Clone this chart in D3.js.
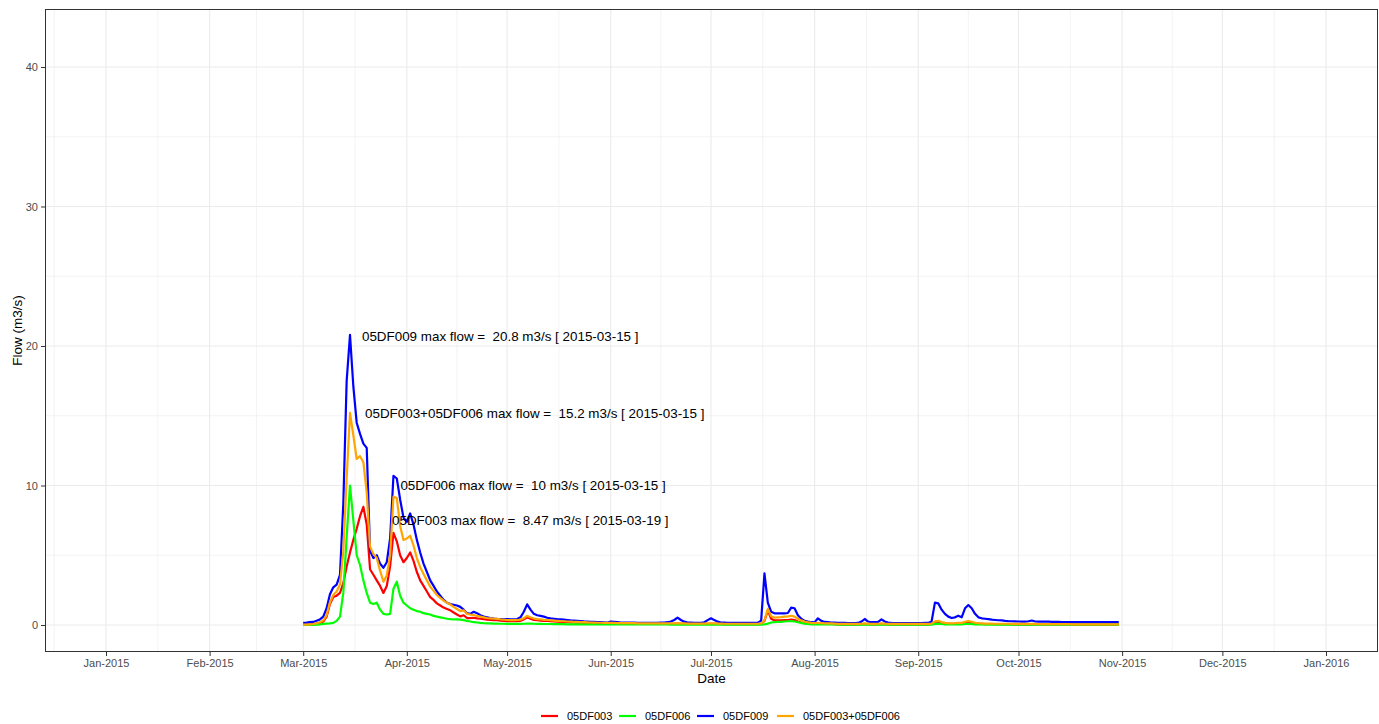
<!DOCTYPE html>
<html>
<head>
<meta charset="utf-8">
<script src="https://cdn.jsdelivr.net/npm/d3@7"></script>
<style>
  html, body { margin: 0; padding: 0; background: #fff; }
  svg { display: block; font-family: "Liberation Sans", Arial, Helvetica, sans-serif; }
</style>
</head>
<body>
<svg id="chart" width="1379" height="724"></svg>
<script>
// Daily mean flow (m3/s), one value per day starting on the first date below.
const firstDay = "2015-03-01";

const flow05DF003 = [
  0.02,0.03,0.05,0.07,0.1,0.15,0.25,0.6,1.5,2.0,
  2.1,2.3,3.0,4.2,5.2,6.1,6.9,7.8,8.47,7.2,
  4.0,3.6,3.2,2.8,2.3,2.8,4.2,6.6,6.0,5.0,
  4.5,4.8,5.2,4.6,3.8,3.2,2.8,2.4,2.0,1.8,
  1.55,1.4,1.25,1.15,1.05,0.9,0.75,0.62,0.7,0.5,
  0.5,0.52,0.47,0.45,0.42,0.38,0.37,0.35,0.34,0.32,
  0.3,0.28,0.27,0.27,0.28,0.3,0.4,0.55,0.45,0.37,
  0.34,0.32,0.3,0.29,0.27,0.26,0.24,0.22,0.21,0.2,
  0.19,0.18,0.17,0.16,0.15,0.14,0.13,0.13,0.12,0.12,
  0.11,0.11,0.12,0.11,0.1,0.1,0.09,0.09,0.09,0.09,
  0.08,0.08,0.08,0.08,0.08,0.08,0.08,0.08,0.08,0.08,
  0.08,0.08,0.1,0.09,0.08,0.07,0.07,0.07,0.07,0.07,
  0.07,0.08,0.09,0.08,0.07,0.07,0.06,0.06,0.06,0.06,
  0.06,0.06,0.06,0.06,0.06,0.06,0.06,0.08,0.3,1.05,
  0.45,0.33,0.33,0.33,0.35,0.35,0.38,0.35,0.25,0.18,
  0.14,0.12,0.1,0.09,0.12,0.1,0.08,0.07,0.07,0.06,
  0.05,0.05,0.05,0.05,0.05,0.05,0.05,0.06,0.08,0.06,
  0.05,0.05,0.06,0.08,0.06,0.05,0.05,0.05,0.05,0.05,
  0.05,0.05,0.05,0.05,0.05,0.05,0.05,0.05,0.07,0.18,
  0.2,0.14,0.1,0.09,0.08,0.09,0.1,0.1,0.16,0.2,
  0.16,0.11,0.09,0.08,0.07,0.07,0.07,0.06,0.06,0.06,
  0.06,0.06,0.05,0.05,0.05,0.05,0.05,0.05,0.05,0.05,
  0.04,0.04,0.04,0.04,0.04,0.04,0.04,0.04,0.04,0.04,
  0.03,0.03,0.03,0.03,0.03,0.03,0.03,0.03,0.03,0.03,
  0.03,0.03,0.03,0.03,0.03
];

const flow05DF006 = [
  0,0,0,0,0.02,0.05,0.08,0.1,0.12,0.15,
  0.3,0.6,2.3,6.3,10.0,7.5,5.0,4.3,3.2,2.3,
  1.6,1.5,1.6,1.1,0.8,0.75,0.8,2.6,3.1,2.1,
  1.6,1.4,1.2,1.1,1.0,0.95,0.85,0.8,0.75,0.65,
  0.6,0.55,0.5,0.45,0.42,0.4,0.4,0.38,0.35,0.3,
  0.25,0.2,0.18,0.15,0.13,0.12,0.11,0.1,0.1,0.09,
  0.09,0.08,0.08,0.08,0.08,0.08,0.09,0.1,0.1,0.09,
  0.08,0.08,0.07,0.07,0.07,0.06,0.06,0.06,0.06,0.05,
  0.05,0.05,0.05,0.05,0.05,0.05,0.05,0.04,0.04,0.04,
  0.04,0.04,0.04,0.04,0.04,0.04,0.04,0.04,0.04,0.04,
  0.04,0.04,0.04,0.04,0.04,0.04,0.04,0.04,0.04,0.04,
  0.03,0.03,0.03,0.03,0.03,0.03,0.03,0.03,0.03,0.03,
  0.03,0.03,0.03,0.03,0.03,0.03,0.03,0.03,0.03,0.03,
  0.03,0.03,0.03,0.03,0.03,0.03,0.03,0.03,0.05,0.1,
  0.18,0.2,0.22,0.23,0.25,0.27,0.28,0.25,0.2,0.15,
  0.1,0.08,0.05,0.04,0.04,0.04,0.04,0.04,0.04,0.04,
  0.03,0.03,0.03,0.03,0.03,0.03,0.03,0.03,0.03,0.03,
  0.03,0.03,0.03,0.03,0.03,0.03,0.03,0.03,0.03,0.03,
  0.03,0.03,0.03,0.03,0.03,0.03,0.03,0.03,0.03,0.08,
  0.1,0.07,0.05,0.04,0.04,0.04,0.05,0.05,0.07,0.09,
  0.07,0.05,0.04,0.04,0.03,0.03,0.03,0.03,0.03,0.03,
  0.03,0.03,0.03,0.03,0.03,0.03,0.03,0.03,0.03,0.03,
  0.02,0.02,0.02,0.02,0.02,0.02,0.02,0.02,0.02,0.02,
  0.02,0.02,0.02,0.02,0.02,0.02,0.02,0.02,0.02,0.02,
  0.02,0.02,0.02,0.02,0.02
];

const flow05DF009 = [
  0.15,0.17,0.2,0.22,0.3,0.4,0.6,1.2,2.2,2.7,
  2.9,3.6,8.7,17.5,20.8,17.1,14.5,13.7,13.0,12.7,
  5.3,4.8,5.0,4.4,4.1,4.5,6.2,10.7,10.5,9.0,
  7.7,7.4,8.0,7.2,6.1,5.2,4.4,3.8,3.2,2.8,
  2.4,2.1,1.8,1.6,1.5,1.45,1.4,1.3,1.1,0.85,
  0.8,0.95,0.85,0.7,0.6,0.55,0.5,0.46,0.44,0.43,
  0.42,0.42,0.41,0.41,0.43,0.55,0.95,1.48,1.1,0.8,
  0.7,0.65,0.6,0.52,0.48,0.45,0.42,0.4,0.38,0.36,
  0.33,0.32,0.3,0.28,0.26,0.25,0.23,0.22,0.2,0.2,
  0.19,0.18,0.24,0.22,0.2,0.18,0.17,0.17,0.17,0.17,
  0.16,0.16,0.16,0.16,0.16,0.16,0.16,0.17,0.18,0.2,
  0.25,0.36,0.53,0.36,0.24,0.18,0.17,0.16,0.16,0.16,
  0.2,0.35,0.48,0.35,0.24,0.18,0.17,0.16,0.16,0.16,
  0.16,0.16,0.16,0.16,0.16,0.16,0.17,0.3,3.7,1.6,
  0.95,0.84,0.84,0.84,0.84,0.86,1.24,1.2,0.7,0.45,
  0.3,0.24,0.2,0.19,0.48,0.3,0.22,0.2,0.18,0.17,
  0.16,0.15,0.15,0.14,0.14,0.14,0.15,0.24,0.43,0.25,
  0.2,0.2,0.22,0.4,0.25,0.17,0.15,0.14,0.14,0.14,
  0.14,0.14,0.14,0.14,0.14,0.14,0.15,0.15,0.25,1.6,
  1.55,1.1,0.8,0.6,0.5,0.55,0.67,0.55,1.2,1.43,
  1.2,0.8,0.55,0.48,0.45,0.42,0.38,0.36,0.34,0.33,
  0.3,0.28,0.27,0.26,0.25,0.24,0.24,0.27,0.32,0.25,
  0.24,0.24,0.25,0.24,0.23,0.22,0.22,0.21,0.2,0.2,
  0.2,0.2,0.2,0.2,0.2,0.2,0.2,0.2,0.2,0.2,
  0.2,0.2,0.2,0.2,0.2
];

const flow05DF003plus006 = [
  0.02,0.03,0.05,0.07,0.12,0.2,0.33,0.7,1.62,2.15,
  2.4,2.9,5.3,10.5,15.2,13.6,11.9,12.1,11.67,9.5,
  5.6,5.1,4.8,3.9,3.1,3.55,5.0,9.2,9.1,7.1,
  6.1,6.2,6.4,5.7,4.8,4.15,3.65,3.2,2.75,2.45,
  2.15,1.95,1.75,1.6,1.47,1.3,1.15,1.0,1.05,0.8,
  0.75,0.72,0.65,0.6,0.55,0.5,0.48,0.45,0.44,0.41,
  0.39,0.36,0.35,0.35,0.36,0.38,0.49,0.65,0.55,0.46,
  0.42,0.4,0.37,0.36,0.34,0.32,0.3,0.28,0.27,0.25,
  0.24,0.23,0.22,0.21,0.2,0.19,0.18,0.17,0.16,0.16,
  0.15,0.15,0.16,0.15,0.14,0.14,0.13,0.13,0.13,0.13,
  0.12,0.12,0.12,0.12,0.12,0.12,0.12,0.12,0.12,0.12,
  0.11,0.11,0.13,0.12,0.11,0.1,0.1,0.1,0.1,0.1,
  0.1,0.11,0.12,0.11,0.1,0.1,0.09,0.09,0.09,0.09,
  0.09,0.09,0.09,0.09,0.09,0.09,0.09,0.11,0.35,1.15,
  0.63,0.53,0.55,0.56,0.6,0.62,0.66,0.6,0.45,0.33,
  0.24,0.2,0.15,0.13,0.16,0.14,0.12,0.11,0.11,0.1,
  0.08,0.08,0.08,0.08,0.08,0.08,0.08,0.09,0.11,0.09,
  0.08,0.08,0.09,0.11,0.09,0.08,0.08,0.08,0.08,0.08,
  0.08,0.08,0.08,0.08,0.08,0.08,0.08,0.08,0.1,0.26,
  0.3,0.21,0.15,0.13,0.12,0.13,0.15,0.15,0.23,0.29,
  0.23,0.16,0.13,0.12,0.1,0.1,0.1,0.09,0.09,0.09,
  0.09,0.09,0.08,0.08,0.08,0.08,0.08,0.08,0.08,0.08,
  0.06,0.06,0.06,0.06,0.06,0.06,0.06,0.06,0.06,0.06,
  0.05,0.05,0.05,0.05,0.05,0.05,0.05,0.05,0.05,0.05,
  0.05,0.05,0.05,0.05,0.05
];

const stationNames = ["05DF003", "05DF006", "05DF009", "05DF003+05DF006"];
const stationColors = ["#FF0000", "#00FF00", "#0000FF", "#FFA500"];
const stationFlows = [flow05DF003, flow05DF006, flow05DF009, flow05DF003plus006];

const yTicks = [0, 10, 20, 30, 40];
const yMinorTicks = [5, 15, 25, 35];
const xTickDates = ["2015-01-01","2015-02-01","2015-03-01","2015-04-01","2015-05-01","2015-06-01",
                    "2015-07-01","2015-08-01","2015-09-01","2015-10-01","2015-11-01","2015-12-01","2016-01-01"];

// ---- layout ----
const W = 1379, H = 724;
const panel = { left: 45, top: 9, right: 1378, bottom: 652 };
const parseDay = d3.utcParse("%Y-%m-%d");
const start = parseDay(firstDay);
const dayOf = i => d3.utcDay.offset(start, i);

const x = d3.scaleUtc()
  .domain([parseDay("2015-01-01"), parseDay("2016-01-01")])
  .range([106, 1326]);
const y = d3.scaleLinear().domain([0, 40]).range([625, 67]);

const svg = d3.select("#chart");

// panel background
svg.append("rect").attr("x", panel.left).attr("y", panel.top)
  .attr("width", panel.right - panel.left).attr("height", panel.bottom - panel.top)
  .attr("fill", "#fff");

svg.append("clipPath").attr("id", "panelClip").append("rect")
  .attr("x", panel.left).attr("y", panel.top)
  .attr("width", panel.right - panel.left).attr("height", panel.bottom - panel.top);

const grid = svg.append("g").attr("clip-path", "url(#panelClip)");

// minor x grid: halfway between month breaks (one month beyond each end)
const monthBreaks = [d3.utcMonth.offset(parseDay(xTickDates[0]), -1)]
  .concat(xTickDates.map(parseDay))
  .concat([d3.utcMonth.offset(parseDay(xTickDates[xTickDates.length - 1]), 1)]);
const minorX = d3.pairs(monthBreaks).map(([a, b]) => (x(a) + x(b)) / 2);

grid.selectAll("line.minx").data(minorX).join("line")
  .attr("x1", d => d).attr("x2", d => d)
  .attr("y1", panel.top).attr("y2", panel.bottom)
  .attr("stroke", "#EBEBEB").attr("stroke-width", 0.6);
grid.selectAll("line.miny").data(yMinorTicks).join("line")
  .attr("x1", panel.left).attr("x2", panel.right)
  .attr("y1", d => y(d)).attr("y2", d => y(d))
  .attr("stroke", "#EBEBEB").attr("stroke-width", 0.6);
grid.selectAll("line.majx").data(xTickDates.map(parseDay)).join("line")
  .attr("x1", d => x(d)).attr("x2", d => x(d))
  .attr("y1", panel.top).attr("y2", panel.bottom)
  .attr("stroke", "#EBEBEB").attr("stroke-width", 1.1);
grid.selectAll("line.majy").data(yTicks).join("line")
  .attr("x1", panel.left).attr("x2", panel.right)
  .attr("y1", d => y(d)).attr("y2", d => y(d))
  .attr("stroke", "#EBEBEB").attr("stroke-width", 1.1);

// series lines
const line = d3.line()
  .x((d, i) => x(dayOf(i)))
  .y(d => y(d));

const plot = svg.append("g").attr("clip-path", "url(#panelClip)");
stationFlows.forEach((vals, k) => {
  plot.append("path")
    .datum(vals)
    .attr("d", line)
    .attr("fill", "none")
    .attr("stroke", stationColors[k])
    .attr("stroke-width", 2.2)
    .attr("stroke-linejoin", "round")
    .attr("stroke-linecap", "butt");
});

// max-flow annotations, text placed relative to each peak (days, m3/s)
const fmtDate = d3.utcFormat("%Y-%m-%d");
const labelShift = [
  { dx: 8.6, dy: -1.0 },   // 05DF003
  { dx: 15.1, dy: 0.0 },   // 05DF006
  { dx: 3.6, dy: -0.08 },  // 05DF009
  { dx: 4.5, dy: 0.0 }     // 05DF003+05DF006
];
const ann = svg.append("g").attr("font-size", 13.4).attr("fill", "#000");
stationFlows.forEach((vals, k) => {
  const iMax = d3.maxIndex(vals);
  const vMax = vals[iMax];
  const d = dayOf(iMax);
  const txt = stationNames[k] + " max flow =  " + vMax + " m3/s [ " + fmtDate(d) + " ]";
  ann.append("text")
    .attr("x", x(d3.utcHour.offset(d, Math.round(labelShift[k].dx * 24))))
    .attr("y", y(vMax + labelShift[k].dy))
    .attr("dy", "0.35em")
    .style("white-space", "pre")
    .text(txt);
});

// panel border
svg.append("rect").attr("x", panel.left + 0.5).attr("y", panel.top + 0.5)
  .attr("width", panel.right - panel.left - 1).attr("height", panel.bottom - panel.top - 1)
  .attr("fill", "none").attr("stroke", "#333333").attr("stroke-width", 1);

// axes
const xAxis = d3.axisBottom(x)
  .tickValues(xTickDates.map(parseDay))
  .tickFormat(d3.utcFormat("%b-%Y"))
  .tickSizeInner(4).tickSizeOuter(0).tickPadding(3);
const gx = svg.append("g").attr("transform", `translate(0,${panel.bottom})`).call(xAxis);
gx.select(".domain").remove();
gx.selectAll(".tick line").attr("stroke", "#333333");
gx.selectAll(".tick text").attr("fill", "#4D4D4D").attr("font-size", 11)
  .attr("font-family", "Liberation Sans, Arial, sans-serif");

const yAxis = d3.axisLeft(y)
  .tickValues(yTicks)
  .tickSizeInner(4).tickSizeOuter(0).tickPadding(3);
const gy = svg.append("g").attr("transform", `translate(${panel.left},0)`).call(yAxis);
gy.select(".domain").remove();
gy.selectAll(".tick line").attr("stroke", "#333333");
gy.selectAll(".tick text").attr("fill", "#4D4D4D").attr("font-size", 11)
  .attr("font-family", "Liberation Sans, Arial, sans-serif");

// axis titles
svg.append("text")
  .attr("x", (panel.left + panel.right) / 2).attr("y", 683)
  .attr("text-anchor", "middle").attr("font-size", 13.5).attr("fill", "#000")
  .text("Date");
svg.append("text")
  .attr("transform", `translate(22,${(panel.top + panel.bottom) / 2}) rotate(-90)`)
  .attr("text-anchor", "middle").attr("font-size", 13.5).attr("fill", "#000")
  .text("Flow (m3/s)");

// legend
const legendKeyX = [541, 619, 697, 777];
const legend = svg.append("g").attr("transform", "translate(0,716)");
stationNames.forEach((name, k) => {
  const g = legend.append("g").attr("transform", `translate(${legendKeyX[k]},0)`);
  g.append("line").attr("x1", 0).attr("x2", 17).attr("y1", 0).attr("y2", 0)
    .attr("stroke", stationColors[k]).attr("stroke-width", 2.2);
  g.append("text").attr("x", 26).attr("y", 0).attr("dy", "0.35em")
    .attr("font-size", 11).attr("fill", "#000").text(name);
});
</script>
</body>
</html>
